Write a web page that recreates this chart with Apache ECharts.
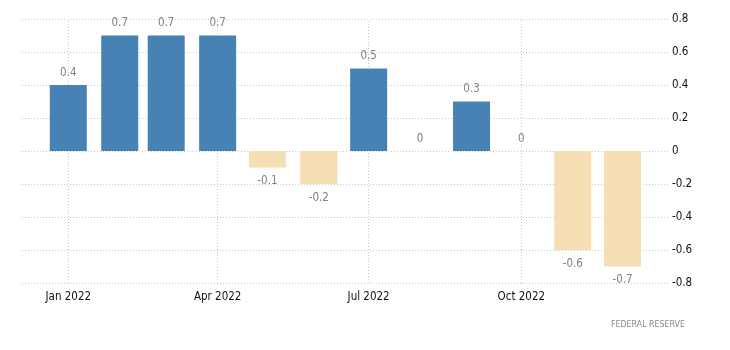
<!DOCTYPE html>
<html>
<head>
<meta charset="utf-8">
<script src="https://cdn.jsdelivr.net/npm/echarts@6/dist/echarts.min.js"></script>
<style>html,body{margin:0;padding:0;background:#fff;}#c{width:730px;height:350px;}</style>
</head>
<body>
<div id="c"></div>
<script>
const months = ['2022-01','2022-02','2022-03','2022-04','2022-05','2022-06','2022-07','2022-08','2022-09','2022-10','2022-11','2022-12'];
const values = [0.4, 0.7, 0.7, 0.7, -0.1, -0.2, 0.5, 0, 0.3, 0, -0.6, -0.7];
const xTickMonths = ['2022-01','2022-04','2022-07','2022-10'];
const xTickLabels = ['Jan 2022','Apr 2022','Jul 2022','Oct 2022'];
const yTicks = [-0.8,-0.6,-0.4,-0.2,0,0.2,0.4,0.6,0.8];
const source = 'FEDERAL RESERVE';

const FONT = "'DejaVu Sans Condensed',sans-serif";
const DAY = 86400000;
function ts(ym){ const p = ym.split('-').map(Number); return Date.UTC(p[0], p[1]-1, 1); }
const jan1 = ts(months[0]);
const tickTs = xTickMonths.map(ts);

const data = months.map((m,i)=>({
  value:[ts(m), values[i]],
  itemStyle:{color: values[i] < 0 ? '#f5deb3' : '#4682b4'},
  label:{position: values[i] < 0 ? 'bottom' : 'top', distance: values[i] < 0 ? 8 : 6}
}));

const chart = echarts.init(document.getElementById('c'), null, {renderer:'canvas'});
chart.setOption({
  animation:false,
  backgroundColor:'#fff',
  grid:{left:22, right:62, top:19, bottom:67, containLabel:false},
  xAxis:{
    type:'value',
    min: jan1 - 27.9*DAY,
    max: jan1 + 361.4*DAY,
    axisLine:{show:false},
    axisTick:{show:false},
    splitLine:{show:false},
    axisLabel:{
      customValues: tickTs,
      showMinLabel:true, showMaxLabel:true,
      color:'#111', fontFamily:FONT, fontSize:11.5, margin:8,
      formatter:function(v){
        for (let i=0;i<tickTs.length;i++){ if (Math.abs(tickTs[i]-v) < DAY) return xTickLabels[i]; }
        return '';
      }
    }
  },
  yAxis:{
    type:'value',
    position:'right',
    min:yTicks[0], max:yTicks[yTicks.length-1], interval:0.2,
    axisLine:{show:false},
    axisTick:{show:false},
    axisLabel:{color:'#111', fontFamily:FONT, fontSize:11.5, margin:4,
      formatter:function(v){ return String(Math.round(v*10)/10); }},
    splitLine:{show:true, lineStyle:{color:'#c8c8c8', type:[1,2], width:1}}
  },
  series:[{
    type:'bar',
    data:data,
    barWidth:37,
    label:{
      show:true, color:'#808080', fontFamily:FONT, fontSize:11.5,
      formatter:function(p){ return String(p.value[1]); }
    },
    markLine:{
      z:1, silent:true, symbol:['none','none'],
      label:{show:false},
      lineStyle:{color:'#c8c8c8', type:[1,2], width:1},
      emphasis:{disabled:true},
      data: tickTs.map(t=>({xAxis:t}))
    }
  }],
  graphic:[{
    type:'text', right:45, top:320,
    style:{text:source, fill:'#8a8a8a', font:"8.8px 'DejaVu Sans Condensed',sans-serif"}
  }]
});
</script>
</body>
</html>
